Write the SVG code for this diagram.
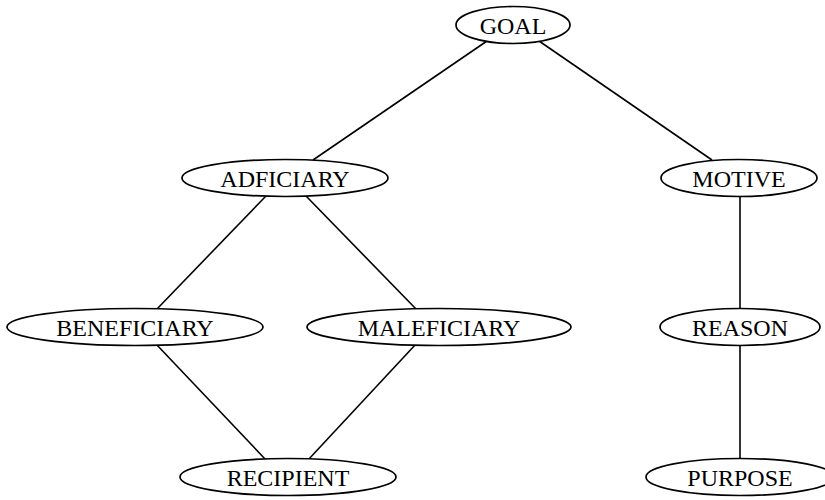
<svg xmlns="http://www.w3.org/2000/svg" width="825" height="500" viewBox="0 0 825 500">
<style>
.n ellipse{fill:#fff;stroke:#000;stroke-width:1.7}
.n text{font-family:"Liberation Serif","Times New Roman",serif;font-size:24px;fill:#000;text-anchor:middle}
.e line{stroke:#000;stroke-width:1.6}
</style>
<rect width="825" height="500" fill="#fff"/>
<g class="e" id="edges">
<line x1="487" y1="41" x2="313" y2="160"/>
<line x1="539" y1="41" x2="712" y2="160"/>
<line x1="266" y1="196" x2="156" y2="310"/>
<line x1="306" y1="196" x2="417" y2="310"/>
<line x1="156" y1="344" x2="266" y2="460"/>
<line x1="416" y1="344" x2="308" y2="460"/>
<line x1="740" y1="196" x2="740" y2="309"/>
<line x1="740" y1="345" x2="740" y2="459"/>
</g>
<g class="n" id="goal"><ellipse cx="513" cy="25" rx="57" ry="18.5"/><text x="513" y="33.5">GOAL</text></g>
<g class="n" id="adficiary"><ellipse cx="285" cy="178" rx="103" ry="18.5"/><text x="285" y="186.5">ADFICIARY</text></g>
<g class="n" id="motive"><ellipse cx="739" cy="178" rx="78" ry="18.5"/><text x="739" y="186.5">MOTIVE</text></g>
<g class="n" id="beneficiary"><ellipse cx="135" cy="327" rx="128" ry="18.5"/><text x="135" y="335.5">BENEFICIARY</text></g>
<g class="n" id="maleficiary"><ellipse cx="439" cy="327" rx="132" ry="18.5"/><text x="439" y="335.5">MALEFICIARY</text></g>
<g class="n" id="reason"><ellipse cx="740" cy="327" rx="80" ry="18.5"/><text x="740" y="335.5">REASON</text></g>
<g class="n" id="recipient"><ellipse cx="288" cy="477" rx="108" ry="18.5"/><text x="288" y="485.5">RECIPIENT</text></g>
<g class="n" id="purpose"><ellipse cx="740" cy="477" rx="94" ry="18.5"/><text x="740" y="485.5">PURPOSE</text></g>
</svg>
